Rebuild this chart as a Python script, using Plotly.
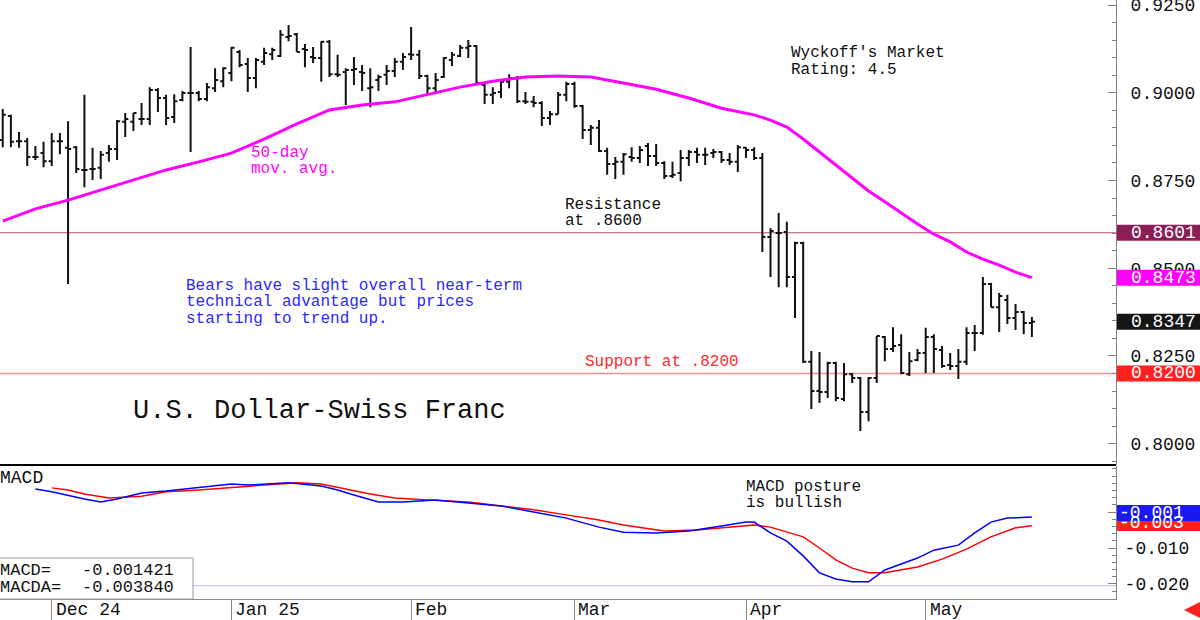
import plotly.graph_objects as go
import pandas as pd

MONO = "Liberation Mono"

# ---------------- data ----------------
trade_dates = [d.strftime("%Y-%m-%d") for d in pd.bdate_range("2024-11-22", "2025-05-20")
               if d.strftime("%Y-%m-%d") != "2025-01-01"]

opens = [0.8865, 0.8934, 0.8862, 0.8862, 0.8817, 0.8828, 0.8805, 0.8862, 0.8843, 0.8845,
         0.8780, 0.8783, 0.8786, 0.8828, 0.8840, 0.8917, 0.8917, 0.8925, 0.8925, 0.9008,
         0.8985, 0.8931, 0.8979, 0.8999, 0.8999, 0.8982, 0.9013, 0.9033, 0.9056, 0.9116,
         0.9082, 0.9042, 0.9088, 0.9110, 0.9105, 0.9159, 0.9167, 0.9125, 0.9102, 0.9099,
         0.9145, 0.9053, 0.9059, 0.9065, 0.9059, 0.9013, 0.9036, 0.9051, 0.9062, 0.9088,
         0.9110, 0.9108, 0.9048, 0.9013, 0.9045, 0.9093, 0.9105, 0.9128, 0.9133, 0.9022,
         0.8994, 0.9002, 0.9031, 0.9042, 0.8976, 0.8974, 0.8971, 0.8928, 0.8939, 0.8994,
         0.9025, 0.8962, 0.8894, 0.8900, 0.8834, 0.8797, 0.8803, 0.8817, 0.8814, 0.8848,
         0.8820, 0.8800, 0.8763, 0.8771, 0.8814, 0.8831, 0.8823, 0.8828, 0.8831, 0.8808,
         0.8803, 0.8843, 0.8837, 0.8814, 0.8589, 0.8600, 0.8603, 0.8475, 0.8572, 0.8233,
         0.8150, 0.8147, 0.8230, 0.8127, 0.8198, 0.8187, 0.8090, 0.8187, 0.8304, 0.8270,
         0.8281, 0.8198, 0.8238, 0.8258, 0.8304, 0.8267, 0.8224, 0.8221, 0.8233, 0.8315,
         0.8315, 0.8455, 0.8389, 0.8409, 0.8358, 0.8375, 0.8344]
highs = [0.8954, 0.8937, 0.8888, 0.8871, 0.8848, 0.8860, 0.8885, 0.8885, 0.8919, 0.8848,
         0.8994, 0.8843, 0.8834, 0.8851, 0.8922, 0.8942, 0.8942, 0.8971, 0.9016, 0.9013,
         0.8994, 0.8996, 0.9005, 0.9130, 0.9005, 0.9028, 0.9070, 0.9073, 0.9130, 0.9122,
         0.9099, 0.9099, 0.9128, 0.9128, 0.9179, 0.9193, 0.9170, 0.9139, 0.9130, 0.9147,
         0.9150, 0.9108, 0.9070, 0.9102, 0.9079, 0.9070, 0.9051, 0.9079, 0.9099, 0.9113,
         0.9187, 0.9122, 0.9051, 0.9056, 0.9102, 0.9116, 0.9136, 0.9150, 0.9136, 0.9028,
         0.9016, 0.9039, 0.9053, 0.9048, 0.9002, 0.8991, 0.8976, 0.8948, 0.9002, 0.9031,
         0.9031, 0.8965, 0.8908, 0.8922, 0.8843, 0.8817, 0.8828, 0.8845, 0.8848, 0.8857,
         0.8854, 0.8805, 0.8803, 0.8837, 0.8837, 0.8843, 0.8843, 0.8840, 0.8834, 0.8828,
         0.8851, 0.8845, 0.8845, 0.8828, 0.8614, 0.8657, 0.8632, 0.8575, 0.8575, 0.8264,
         0.8261, 0.8233, 0.8233, 0.8230, 0.8201, 0.8190, 0.8190, 0.8307, 0.8307, 0.8332,
         0.8312, 0.8261, 0.8270, 0.8330, 0.8312, 0.8278, 0.8258, 0.8270, 0.8332, 0.8338,
         0.8475, 0.8458, 0.8429, 0.8424, 0.8398, 0.8378, 0.8361]
lows = [0.8845, 0.8845, 0.8843, 0.8791, 0.8808, 0.8788, 0.8791, 0.8825, 0.8455, 0.8771,
        0.8731, 0.8751, 0.8754, 0.8803, 0.8808, 0.8874, 0.8891, 0.8908, 0.8908, 0.8945,
        0.8908, 0.8914, 0.8976, 0.8831, 0.8976, 0.8976, 0.9002, 0.9016, 0.9033, 0.9073,
        0.9002, 0.9013, 0.9079, 0.9093, 0.9102, 0.9147, 0.9116, 0.9073, 0.9085, 0.9031,
        0.9045, 0.9045, 0.8965, 0.9022, 0.9005, 0.8959, 0.9005, 0.9022, 0.9045, 0.9065,
        0.9093, 0.9039, 0.8996, 0.9002, 0.9042, 0.9076, 0.9102, 0.9099, 0.9022, 0.8968,
        0.8968, 0.8985, 0.9013, 0.8971, 0.8968, 0.8959, 0.8905, 0.8908, 0.8939, 0.8976,
        0.8957, 0.8868, 0.8851, 0.8831, 0.8766, 0.8754, 0.8766, 0.8803, 0.8800, 0.8791,
        0.8791, 0.8754, 0.8757, 0.8748, 0.8791, 0.8800, 0.8794, 0.8814, 0.8800, 0.8794,
        0.8774, 0.8814, 0.8808, 0.8546, 0.8475, 0.8446, 0.8446, 0.8358, 0.8230, 0.8099,
        0.8116, 0.8130, 0.8121, 0.8121, 0.8173, 0.8036, 0.8064, 0.8173, 0.8235, 0.8261,
        0.8198, 0.8193, 0.8235, 0.8201, 0.8201, 0.8216, 0.8210, 0.8184, 0.8224, 0.8264,
        0.8310, 0.8389, 0.8318, 0.8341, 0.8324, 0.8312, 0.8304]
closes = [0.8937, 0.8860, 0.8862, 0.8817, 0.8817, 0.8805, 0.8862, 0.8862, 0.8840, 0.8783,
          0.8780, 0.8783, 0.8823, 0.8840, 0.8919, 0.8925, 0.8942, 0.8925, 0.9008, 0.8985,
          0.8928, 0.8976, 0.8999, 0.8999, 0.8982, 0.9016, 0.9036, 0.9070, 0.9128, 0.9079,
          0.9042, 0.9093, 0.9113, 0.9122, 0.9165, 0.9162, 0.9116, 0.9122, 0.9099, 0.9145,
          0.9053, 0.9051, 0.9065, 0.9068, 0.9056, 0.9016, 0.9045, 0.9062, 0.9088, 0.9102,
          0.9108, 0.9048, 0.9013, 0.9036, 0.9099, 0.9108, 0.9128, 0.9133, 0.9028, 0.8994,
          0.8999, 0.9031, 0.9042, 0.8976, 0.8974, 0.8971, 0.8928, 0.8939, 0.8994, 0.9025,
          0.8962, 0.8894, 0.8900, 0.8834, 0.8797, 0.8803, 0.8825, 0.8814, 0.8837, 0.8820,
          0.8800, 0.8763, 0.8766, 0.8814, 0.8831, 0.8823, 0.8823, 0.8831, 0.8808, 0.8803,
          0.8845, 0.8837, 0.8814, 0.8589, 0.8606, 0.8600, 0.8475, 0.8572, 0.8233, 0.8150,
          0.8147, 0.8230, 0.8130, 0.8198, 0.8187, 0.8090, 0.8187, 0.8307, 0.8270, 0.8278,
          0.8201, 0.8235, 0.8258, 0.8304, 0.8270, 0.8221, 0.8221, 0.8233, 0.8315, 0.8315,
          0.8455, 0.8389, 0.8421, 0.8358, 0.8375, 0.8344, 0.8347]

# 50-day moving average, read at sampled bars
ma_bar = [0, 4, 8, 12, 16, 20, 24, 28, 32, 36, 40, 44, 48, 52, 56, 60, 64, 68, 72, 76, 80,
          84, 88, 92, 94, 96, 98, 100, 102, 104, 106, 108, 110, 112, 114, 116, 118, 120,
          122, 124, 126]
ma_val = [0.8634, 0.8669, 0.8694, 0.8723, 0.8751, 0.8780, 0.8803, 0.8828, 0.8868, 0.8911,
          0.8951, 0.8965, 0.8974, 0.8996, 0.9016, 0.9033, 0.9045, 0.9048, 0.9045, 0.9028,
          0.9010, 0.8985, 0.8956, 0.8937, 0.8922, 0.8902, 0.8868, 0.8831, 0.8794, 0.8757,
          0.8720, 0.8689, 0.8657, 0.8626, 0.8597, 0.8575, 0.8546, 0.8526, 0.8509, 0.8489,
          0.8473]

# MACD (blue) and MACD average (red), read at sampled bars
macd_bar = [4, 6, 10, 12, 14, 17, 20, 24, 28, 30, 32, 35, 39, 41, 43, 46, 49, 53, 57, 61,
            65, 69, 73, 76, 80, 84, 88, 91, 92, 94, 96, 98, 100, 102, 104, 106, 108, 110,
            112, 114, 117, 119, 121, 123, 126]
macd_val = [0.0064, 0.0056, 0.0036, 0.0028, 0.0036, 0.0053, 0.0058, 0.0067, 0.0078, 0.0075,
            0.0078, 0.0081, 0.0072, 0.0061, 0.0047, 0.0028, 0.0028, 0.0033, 0.0025, 0.0017,
            0.0000, -0.0017, -0.0042, -0.0056, -0.0058, -0.0053, -0.0039, -0.0028, -0.0028,
            -0.0058, -0.0081, -0.0122, -0.0169, -0.0186, -0.0194, -0.0194, -0.0161, -0.0144,
            -0.0128, -0.0106, -0.0092, -0.0058, -0.0028, -0.0017, -0.001421]
sig_bar = [6, 8, 10, 13, 17, 20, 24, 28, 32, 36, 39, 42, 45, 48, 52, 57, 61, 65, 69, 73,
           76, 81, 85, 92, 94, 96, 98, 100, 102, 104, 106, 108, 110, 112, 115, 118, 121,
           124, 126]
sig_val = [0.0067, 0.0061, 0.0050, 0.0039, 0.0044, 0.0056, 0.0061, 0.0069, 0.0075, 0.0081,
           0.0078, 0.0064, 0.0050, 0.0039, 0.0033, 0.0028, 0.0017, 0.0006, -0.0008, -0.0022,
           -0.0036, -0.0053, -0.0050, -0.0036, -0.0042, -0.0056, -0.0069, -0.0100, -0.0133,
           -0.0156, -0.0169, -0.0169, -0.0161, -0.0153, -0.0131, -0.0103, -0.0069, -0.0044,
           -0.003840]

resistance_level = 0.8601
support_level = 0.8200
macd_ref_level = -0.0205

price_ticks = [0.8000, 0.8250, 0.8500, 0.8750, 0.9000, 0.9250]
price_tick_text = ["0.8000", "0.8250", "0.8500", "0.8750", "0.9000", "0.9250"]
macd_ticks = [0.0, -0.010, -0.020]
macd_tick_text = ["0.000", "-0.010", "-0.020"]
month_starts = ["2024-12-02", "2025-01-02", "2025-02-03", "2025-03-03", "2025-04-01", "2025-05-01"]
month_labels = ["Dec 24", "Jan 25", "Feb", "Mar", "Apr", "May"]

# ---------------- layout helpers (pixel -> paper) ----------------
PW, PH = 1116.0, 599.0
P_LO, P_HI = 0.79391, 0.92643


def px(x):
    return x / PW


def py(y):
    return 1 - y / PH


fig = go.Figure()

fig.add_trace(go.Ohlc(
    x=trade_dates, open=opens, high=highs, low=lows, close=closes,
    increasing=dict(line=dict(color="#111111", width=2)),
    decreasing=dict(line=dict(color="#111111", width=2)),
    tickwidth=0.38, hoverinfo="skip", showlegend=False, xaxis="x", yaxis="y"))

fig.add_trace(go.Scatter(
    x=[trade_dates[i] for i in ma_bar], y=ma_val, mode="lines",
    line=dict(color="#ff00ff", width=3), hoverinfo="skip", showlegend=False,
    xaxis="x", yaxis="y"))

fig.add_trace(go.Scatter(
    x=[trade_dates[i] for i in sig_bar], y=sig_val, mode="lines",
    line=dict(color="#ff0000", width=1.5), hoverinfo="skip", showlegend=False,
    xaxis="x", yaxis="y2"))
fig.add_trace(go.Scatter(
    x=[trade_dates[i] for i in macd_bar], y=macd_val, mode="lines",
    line=dict(color="#0000ff", width=1.5), hoverinfo="skip", showlegend=False,
    xaxis="x", yaxis="y2"))

shapes = [
    dict(type="line", xref="paper", yref="y", x0=0, x1=1, y0=resistance_level, y1=resistance_level,
         line=dict(color="#b0506e", width=1), layer="below"),
    dict(type="line", xref="paper", yref="y", x0=0, x1=1, y0=support_level, y1=support_level,
         line=dict(color="#ff8a8a", width=1.5), layer="below"),
    dict(type="line", xref="paper", yref="y2", x0=0, x1=1, y0=macd_ref_level, y1=macd_ref_level,
         line=dict(color="#b8bcff", width=1), layer="below"),
    dict(type="line", xref="paper", yref="paper", x0=0, x1=1, y0=py(465), y1=py(465),
         line=dict(color="#000000", width=2)),
    dict(type="rect", xref="paper", yref="paper", x0=px(-2), x1=px(193), y0=py(599), y1=py(558),
         line=dict(color="#9a9a9a", width=1), fillcolor="white"),
]

ann = []


def txt(s, x, y, color="#111111", size=16):
    ann.append(dict(text=s, xref="paper", yref="paper", x=px(x), y=py(y), xanchor="left",
                    yanchor="middle", showarrow=False,
                    font=dict(family=MONO, size=size, color=color)))


txt("Wyckoff's Market", 789, 53)
txt("Rating: 4.5", 789, 70)
txt("50-day", 249, 153, "#ff00ff")
txt("mov. avg.", 249, 169, "#ff00ff")
txt("Resistance", 563, 205)
txt("at .8600", 563, 221)
txt("Bears have slight overall near-term", 184, 286, "#2a2aff")
txt("technical advantage but prices", 184, 302, "#2a2aff")
txt("starting to trend up.", 184, 319, "#2a2aff")
txt("Support at .8200", 583, 362, "#ff2a2a")
txt("U.S. Dollar-Swiss Franc", 131, 411, "#111111", 27)
txt("MACD posture", 744, 487)
txt("is bullish", 744, 503)
txt("MACD", -2, 478, "#111111", 18)
txt("MACD=", -2, 570, "#111111", 17)
txt("-0.001421", 80, 570, "#111111", 17)
txt("MACDA=", -2, 587, "#111111", 17)
txt("-0.003840", 80, 587, "#111111", 17)

for d, lab in zip(month_starts, month_labels):
    ann.append(dict(text=lab, xref="x", yref="paper", x=d, y=py(610), xanchor="left",
                    yanchor="middle", xshift=2, showarrow=False,
                    font=dict(family=MONO, size=18, color="#111111")))


# right-hand value boxes: coloured rectangle + white text
def value_box(center_y_px, label, color, text_x):
    shapes.append(dict(type="rect", xref="paper", yref="paper", x0=px(1117), x1=px(1201),
                       y0=py(center_y_px + 8), y1=py(center_y_px - 8),
                       line=dict(width=0), fillcolor=color, layer="above"))
    ann.append(dict(text=label, xref="paper", yref="paper", x=px(text_x), y=py(center_y_px),
                    xanchor="left", yanchor="middle", showarrow=False,
                    font=dict(family=MONO, size=18, color="white")))


def price_px(v):
    return (P_HI - v) / (P_HI - P_LO) * 465


value_box(price_px(resistance_level), "0.8601", "#8b1e55", 1129)
value_box(price_px(ma_val[-1]), "0.8473", "#ff00ff", 1129)
value_box(price_px(closes[-1]), "0.8347", "#161616", 1129)
value_box(price_px(support_level), "0.8200", "#ff2020", 1129)
value_box(523, "-0.003", "#ff2020", 1117)
value_box(513, "-0.001", "#1a1aee", 1117)

# little red arrow bottom-right
ann.append(dict(text="", xref="paper", yref="paper", x=px(1184), y=py(610), showarrow=True,
                ax=16, ay=0, arrowhead=2, arrowsize=0.8, arrowwidth=4, arrowcolor="#ff2020"))

axis_font = dict(family=MONO, size=18, color="#111111")

fig.update_layout(
    width=1200, height=620,
    margin=dict(l=0, r=84, t=0, b=21, autoexpand=False),
    paper_bgcolor="white", plot_bgcolor="white",
    showlegend=False, hovermode=False, dragmode=False,
    xaxis=dict(
        type="date", anchor="y2", domain=[0, 1], automargin=False,
        range=["2024-11-21 16:00", "2025-06-03 07:12"],
        rangebreaks=[dict(bounds=["sat", "mon"]), dict(values=["2025-01-01"])],
        rangeslider=dict(visible=False),
        tickvals=month_starts, showticklabels=False,
        ticks="outside", ticklen=21, tickcolor="#8a8a8a", tickwidth=1,
        showgrid=False, zeroline=False, showline=True, linecolor="#8a8a8a", linewidth=1,
    ),
    yaxis=dict(
        domain=[1 - 465 / PH, 1], anchor="x", side="right", automargin=False,
        range=[P_LO, P_HI],
        tickvals=price_ticks, ticktext=price_tick_text, tickfont=axis_font,
        ticks="inside", ticklen=8, tickcolor="#808080", ticklabelstandoff=10,
        ticklabeloverflow="allow",
        minor=dict(dtick=0.005, ticks="inside", ticklen=4, tickcolor="#808080"),
        showgrid=False, zeroline=False, showline=True, linecolor="#808080", linewidth=1,
    ),
    yaxis2=dict(
        domain=[0, 133 / PH], anchor="x", side="right", automargin=False,
        range=[-0.02417, 0.01278],
        tickvals=macd_ticks, ticktext=macd_tick_text, tickfont=axis_font,
        ticks="inside", ticklen=8, tickcolor="#808080", ticklabelstandoff=4,
        ticklabeloverflow="allow",
        minor=dict(dtick=0.002, ticks="inside", ticklen=4, tickcolor="#808080"),
        showgrid=False, zeroline=False, showline=True, linecolor="#808080", linewidth=1,
    ),
    shapes=shapes,
    annotations=ann,
)

fig.write_html("out.html")
